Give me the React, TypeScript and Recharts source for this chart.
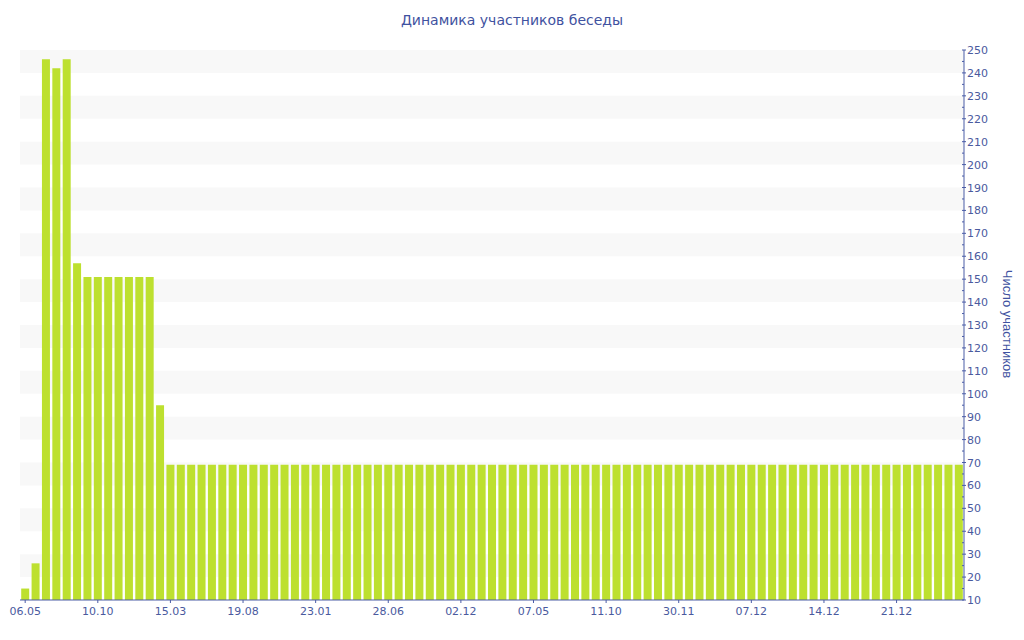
import React from 'react';
import { BarChart, Bar, XAxis, YAxis, ReferenceArea } from 'recharts';

const dates: string[] = [
  '06.05', '28.05', '19.06', '11.07', '02.08', '24.08', '15.09',
  '10.10', '01.11', '23.11', '15.12', '06.01', '28.01', '19.02',
  '15.03', '06.04', '28.04', '20.05', '11.06', '03.07', '25.07',
  '19.08', '10.09', '02.10', '24.10', '15.11', '07.12', '29.12',
  '23.01', '14.02', '08.03', '30.03', '21.04', '13.05', '04.06',
  '28.06', '20.07', '11.08', '02.09', '24.09', '16.10', '07.11',
  '02.12', '24.12', '15.01', '06.02', '28.02', '22.03', '13.04',
  '07.05', '29.05', '20.06', '12.07', '03.08', '25.08', '16.09',
  '11.10', '18.10', '25.10', '01.11', '08.11', '15.11', '22.11',
  '30.11', '01.12', '02.12', '03.12', '04.12', '05.12', '06.12',
  '07.12', '08.12', '09.12', '10.12', '11.12', '12.12', '13.12',
  '14.12', '15.12', '16.12', '17.12', '18.12', '19.12', '20.12',
  '21.12', '22.12', '23.12', '24.12', '25.12', '26.12', '27.12',
];

const members: number[] = [
  15, 26, 246, 242, 246, 157, 151,
  151, 151, 151, 151, 151, 151, 95,
  69, 69, 69, 69, 69, 69, 69,
  69, 69, 69, 69, 69, 69, 69,
  69, 69, 69, 69, 69, 69, 69,
  69, 69, 69, 69, 69, 69, 69,
  69, 69, 69, 69, 69, 69, 69,
  69, 69, 69, 69, 69, 69, 69,
  69, 69, 69, 69, 69, 69, 69,
  69, 69, 69, 69, 69, 69, 69,
  69, 69, 69, 69, 69, 69, 69,
  69, 69, 69, 69, 69, 69, 69,
  69, 69, 69, 69, 69, 69, 69,
];

const yTicks: number[] = [];
for (let v = 10; v <= 250; v += 5) yTicks.push(v);

const bandStarts: number[] = [20, 40, 60, 80, 100, 120, 140, 160, 180, 200, 220, 240];

const data = members.map((m, i) => ({ i, label: dates[i], members: m }));

const AXIS = '#4a5ca6';
const TEXT = '#4a5a9e';
const FONT = '"DejaVu Sans", Verdana, sans-serif';

const YTick = (props: any) => {
  const { x, y, payload } = props;
  const v = payload.value as number;
  const ax = x - 2;
  const major = v % 10 === 0;
  return (
    <g>
      {major ? (
        <line x1={ax - 2} x2={ax + 2} y1={y} y2={y} stroke={AXIS} strokeWidth={1} />
      ) : (
        <line x1={ax - 2} x2={ax} y1={y} y2={y} stroke={AXIS} strokeWidth={1} />
      )}
      {major && (
        <text x={ax + 3} y={y} dy={4} fill={TEXT} fontSize={11} fontFamily={FONT} textAnchor="start">
          {v}
        </text>
      )}
    </g>
  );
};

export default function App() {
  return (
    <div style={{ position: 'absolute', left: 0, top: 0, width: 1024, height: 640, background: '#fff' }}>
      <div
        style={{
          position: 'absolute',
          left: 0,
          top: 12,
          width: 1024,
          textAlign: 'center',
          fontFamily: FONT,
          fontSize: 14,
          color: '#3f52a0',
        }}
      >
        Динамика участников беседы
      </div>
      <div
        style={{
          position: 'absolute',
          left: 1007,
          top: 324,
          transform: 'translate(-50%, -50%) rotate(90deg)',
          whiteSpace: 'nowrap',
          fontFamily: '"Liberation Sans", Arial, sans-serif',
          fontSize: 13,
          color: '#3f52a0',
        }}
      >
        Число участников
      </div>
      <BarChart
        width={1024}
        height={640}
        data={data}
        margin={{ top: 50, right: 0, bottom: 0, left: 20 }}
        barCategoryGap={1.2}
      >
        {bandStarts.map((b) => (
          <ReferenceArea
            key={b}
            y1={b}
            y2={b + 10}
            fill="#f8f8f8"
            fillOpacity={1}
            stroke="none"
            yAxisId="r"
          />
        ))}
        <XAxis
          dataKey="i"
          type="category"
          interval={6}
          tickFormatter={(v: number) => dates[v]}
          stroke={AXIS}
          tick={{ fill: TEXT, fontSize: 11, fontFamily: FONT }}
          tickSize={3}
          tickMargin={4}
          height={40}
          axisLine={{ stroke: AXIS }}
          tickLine={{ stroke: AXIS }}
        />
        <YAxis
          yAxisId="r"
          orientation="right"
          domain={[10, 250]}
          ticks={yTicks}
          interval={0}
          allowDataOverflow
          width={60}
          axisLine={{ stroke: AXIS }}
          tickLine={false}
          tickSize={0}
          tickMargin={2}
          tick={<YTick />}
        />
        <Bar dataKey="members" yAxisId="r" fill="#bde02f" isAnimationActive={false} />
      </BarChart>
    </div>
  );
}
